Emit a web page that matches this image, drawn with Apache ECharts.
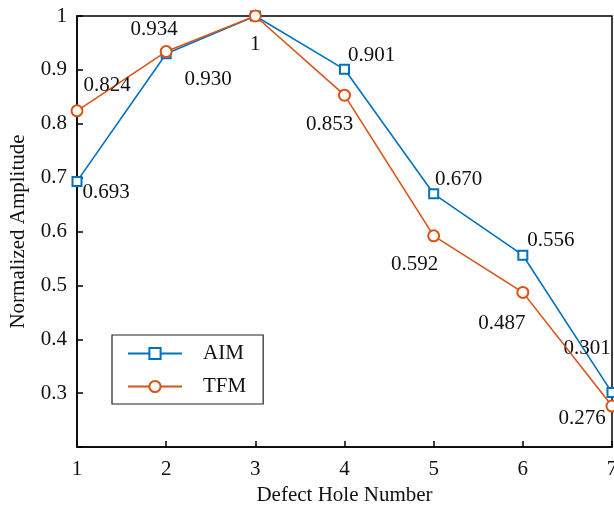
<!DOCTYPE html>
<html>
<head>
<meta charset="utf-8">
<script src="https://cdn.jsdelivr.net/npm/echarts@6/dist/echarts.min.js"></script>
<style>html,body{margin:0;padding:0;background:#fff;}#c{width:614px;height:508px;}</style>
</head>
<body>
<div id="c"></div>
<script>
const holes = [1, 2, 3, 4, 5, 6, 7];
const aim = [0.693, 0.930, 1, 0.901, 0.670, 0.556, 0.301];
const tfm = [0.824, 0.934, 1, 0.853, 0.592, 0.487, 0.276];
const aimLabels = ['0.693', '0.930', '', '0.901', '0.670', '0.556', '0.301'];
const tfmLabels = ['0.824', '0.934', '1', '0.853', '0.592', '0.487', '0.276'];
// label offsets (pixels from point center)
const aimOffsets = [[29, 11], [42, 26], [0, 0], [27, -14], [25, -14], [28, -15], [-25, -44]];
const tfmOffsets = [[30, -25], [-12, -22], [0, 28], [-15, 29], [-19, 29], [-21, 31], [-30, 12]];

const FONT = 'Liberation Serif';
function build(vals, labels, offs) {
  return holes.map((h, i) => ({
    value: [h, vals[i]],
    label: {
      show: labels[i] !== '',
      formatter: labels[i],
      position: 'inside',
      align: 'center',
      verticalAlign: 'middle',
      offset: offs[i]
    }
  }));
}
const chart = echarts.init(document.getElementById('c'), null, {renderer: 'canvas'});
chart.setOption({
  animation: false,
  backgroundColor: '#fff',
  textStyle: {fontFamily: FONT},
  grid: {left: 77, right: 2, top: 16, bottom: 61, outerBoundsMode: 'none', containLabel: false,
    show: true, borderColor: '#000', borderWidth: 1.5, backgroundColor: 'transparent'},
  legend: {
    orient: 'vertical', left: 112, top: 335,
    padding: [8, 17, 7, 15],
    itemWidth: 54, itemHeight: 14, itemGap: 12,
    borderColor: '#222', borderWidth: 1.2,
    textStyle: {fontFamily: FONT, fontSize: 21, color: '#111', lineHeight: 20, padding: [0, 0, 0, 16]},
    data: ['AIM', 'TFM']
  },
  xAxis: {
    type: 'value', min: 1, max: 7, interval: 1,
    name: 'Defect Hole Number', nameLocation: 'middle', nameGap: 38,
    nameTextStyle: {fontFamily: FONT, fontSize: 21, color: '#111'},
    axisLine: {show: true, lineStyle: {color: '#000', width: 1.5}},
    axisTick: {show: true, inside: true, length: 6, lineStyle: {color: '#000', width: 1.5}},
    axisLabel: {fontFamily: FONT, fontSize: 21, color: '#111', margin: 12},
    splitLine: {show: false}
  },
  yAxis: {
    type: 'value', min: 0.2, max: 1, interval: 0.1,
    name: 'Normalized Amplitude', nameLocation: 'middle', nameGap: 48,
    nameTextStyle: {fontFamily: FONT, fontSize: 21, color: '#111'},
    axisLine: {show: true, lineStyle: {color: '#000', width: 1.5}},
    axisTick: {show: true, inside: true, length: 6, lineStyle: {color: '#000', width: 1.5}},
    axisLabel: {fontFamily: FONT, fontSize: 21, color: '#111', margin: 10,
      formatter: v => (Math.abs(v - 0.2) < 1e-6 ? '' : String(+v.toFixed(1)))},
    splitLine: {show: false}
  },
  series: [
    {
      name: 'AIM', type: 'line', data: build(aim, aimLabels, aimOffsets),
      symbol: 'emptyRect', symbolSize: 9, clip: false,
      color: '#0072BD',
      lineStyle: {color: '#0072BD', width: 1.6},
      itemStyle: {color: '#0072BD', borderColor: '#0072BD', borderWidth: 1.6},
      label: {fontFamily: FONT, fontSize: 21, color: '#111'},
      z: 3
    },
    {
      name: 'TFM', type: 'line', data: build(tfm, tfmLabels, tfmOffsets),
      symbol: 'emptyCircle', symbolSize: 11, clip: false,
      color: '#D95319',
      lineStyle: {color: '#D95319', width: 1.6},
      itemStyle: {color: '#D95319', borderColor: '#D95319', borderWidth: 1.6},
      label: {fontFamily: FONT, fontSize: 21, color: '#111'},
      z: 4
    }
  ]
});
</script>
</body>
</html>
